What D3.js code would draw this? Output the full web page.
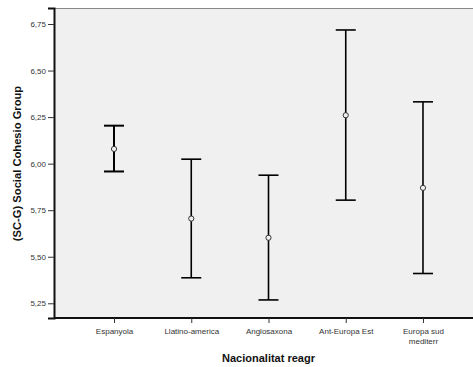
<!DOCTYPE html>
<html>
<head>
<meta charset="utf-8">
<script src="https://cdn.jsdelivr.net/npm/d3@7"></script>
<style>
  body { margin: 0; background: #fff; }
  svg { display: block; font-family: "Liberation Sans", Arial, sans-serif; }
</style>
</head>
<body>
<div id="chart"></div>
<script>
const categories = ['Espanyola', 'Llatino-america', 'Anglosaxona', 'Ant-Europa Est', 'Europa sud\nmediterr'];
const means = [6.079, 5.705, 5.602, 6.26, 5.87];
const lower = [5.958, 5.387, 5.268, 5.804, 5.41];
const upper = [6.204, 6.024, 5.938, 6.718, 6.332];
const yTicks = [5.25, 5.50, 5.75, 6.00, 6.25, 6.50, 6.75];

const W = 473, H = 367;
const margin = { top: 8, left: 54, bottom: 49, right: -10 };

const svg = d3.select('#chart').append('svg').attr('width', W).attr('height', H);

const x = d3.scalePoint()
  .domain(categories)
  .range([margin.left, W - margin.right])
  .padding(0.777);

const y = d3.scaleLinear()
  .domain([5.171, 6.836])
  .range([H - margin.bottom, margin.top]);

const fmt = d => d3.format('.2f')(d).replace('.', ',');

// plot area
svg.append('rect')
  .attr('x', margin.left).attr('y', margin.top)
  .attr('width', W - margin.right - margin.left)
  .attr('height', H - margin.bottom - margin.top)
  .attr('fill', '#f0f0f0');

svg.append('line')
  .attr('x1', margin.left).attr('x2', W)
  .attr('y1', margin.top + 0.5).attr('y2', margin.top + 0.5)
  .attr('stroke', '#888').attr('stroke-width', 1);

// y axis
const yAxis = svg.append('g')
  .attr('transform', `translate(${margin.left},0)`)
  .call(d3.axisLeft(y).tickValues(yTicks).tickFormat(fmt).tickSize(6).tickPadding(2));
yAxis.select('.domain').attr('stroke', '#111').attr('stroke-width', 2);
yAxis.selectAll('.tick line').attr('stroke', '#333');
yAxis.selectAll('.tick text').attr('fill', '#333').attr('font-size', 8);

// x axis
const xAxis = svg.append('g')
  .attr('transform', `translate(0,${H - margin.bottom})`)
  .call(d3.axisBottom(x).tickSize(5).tickSizeOuter(0));
xAxis.select('.domain').attr('stroke', '#111').attr('stroke-width', 2)
  .attr('d', `M${margin.left},0H${W}`);
xAxis.selectAll('.tick line').attr('stroke', '#333');
xAxis.selectAll('.tick text').remove();
xAxis.selectAll('.tick').each(function(d) {
  const t = d3.select(this).append('text')
    .attr('fill', '#333').attr('font-size', 8)
    .attr('text-anchor', 'middle').attr('y', 15.5);
  d.split('\n').forEach((s, i) => {
    t.append('tspan').attr('x', 0).attr('dy', i ? 10 : 0).text(s);
  });
});

// error bars
const bars = svg.append('g').selectAll('g')
  .data(categories.map((c, i) => ({ c, m: means[i], lo: lower[i], hi: upper[i], i })))
  .join('g')
  .attr('transform', d => `translate(${x(d.c)},0)`);

const sw = d => d.i === 0 ? 2 : 1.6;
bars.append('line')
  .attr('y1', d => y(d.lo)).attr('y2', d => y(d.hi))
  .attr('stroke', '#000').attr('stroke-width', sw);
bars.append('line')
  .attr('x1', -10).attr('x2', 10)
  .attr('y1', d => y(d.hi)).attr('y2', d => y(d.hi))
  .attr('stroke', '#000').attr('stroke-width', sw);
bars.append('line')
  .attr('x1', -10).attr('x2', 10)
  .attr('y1', d => y(d.lo)).attr('y2', d => y(d.lo))
  .attr('stroke', '#000').attr('stroke-width', sw);
bars.append('circle')
  .attr('cy', d => y(d.m)).attr('r', 2.6)
  .attr('fill', '#f0f0f0').attr('stroke', '#333').attr('stroke-width', 1);

// axis titles
svg.append('text')
  .attr('x', 268.5).attr('y', 361.5)
  .attr('text-anchor', 'middle')
  .attr('font-size', 11).attr('font-weight', 'bold').attr('fill', '#111')
  .text('Nacionalitat reagr');

svg.append('text')
  .attr('transform', 'translate(21,163.5) rotate(-90)')
  .attr('text-anchor', 'middle')
  .attr('font-size', 11.2).attr('font-weight', 'bold').attr('fill', '#111')
  .text('(SC-G) Social Cohesio Group');
</script>
</body>
</html>
